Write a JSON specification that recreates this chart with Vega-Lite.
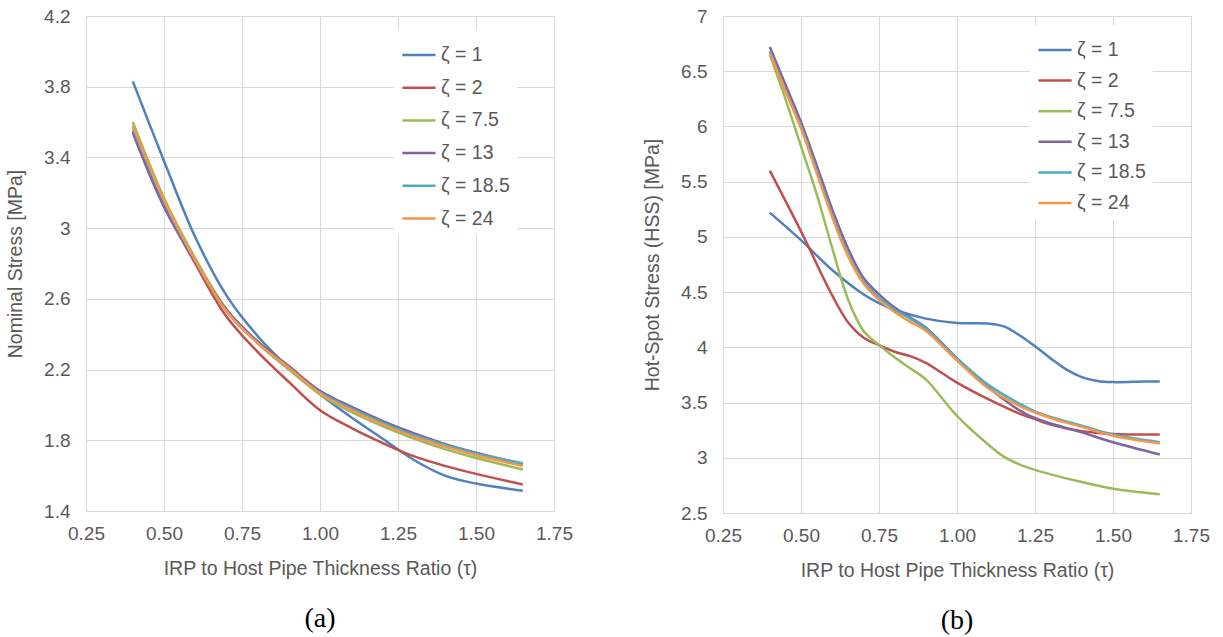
{
  "$schema": "https://vega.github.io/schema/vega-lite/v6.json",
  "background": "white",
  "padding": {"left": 5, "top": 6, "right": 5, "bottom": 5},
  "config": {
    "font": "Liberation Sans",
    "view": {"stroke": "#d9d9d9", "strokeWidth": 1},
    "axis": {
      "labelFont": "Liberation Sans", "labelFontSize": 19, "labelColor": "#595959",
      "titleFont": "Liberation Sans", "titleFontSize": 19.5, "titleFontWeight": "normal", "titleColor": "#595959",
      "gridColor": "#d9d9d9", "domainColor": "#d9d9d9", "ticks": false, "tickSize": 0,
      "labelOverlap": false, "labelFlush": false
    },
    "legend": {
      "symbolType": "stroke", "symbolSize": 1100, "symbolStrokeWidth": 2.5,
      "labelFont": "Liberation Sans", "labelFontSize": 19.5, "labelColor": "#595959",
      "fillColor": "white", "padding": 7, "labelOffset": 4
    },
    "concat": {"spacing": 69}
  },
  "datasets": {
    "nominal": [
      {"series": "ζ = 1", "tau": 0.4, "value": 3.83}, {"series": "ζ = 1", "tau": 0.5, "value": 3.38}, {"series": "ζ = 1", "tau": 0.6, "value": 2.95}, {"series": "ζ = 1", "tau": 0.7, "value": 2.62}, {"series": "ζ = 1", "tau": 0.8, "value": 2.39}, {"series": "ζ = 1", "tau": 0.9, "value": 2.21}, {"series": "ζ = 1", "tau": 1.0, "value": 2.06}, {"series": "ζ = 1", "tau": 1.1, "value": 1.93}, {"series": "ζ = 1", "tau": 1.2, "value": 1.81}, {"series": "ζ = 1", "tau": 1.3, "value": 1.69}, {"series": "ζ = 1", "tau": 1.4, "value": 1.6}, {"series": "ζ = 1", "tau": 1.5, "value": 1.555}, {"series": "ζ = 1", "tau": 1.65, "value": 1.515},
      {"series": "ζ = 2", "tau": 0.4, "value": 3.55}, {"series": "ζ = 2", "tau": 0.5, "value": 3.13}, {"series": "ζ = 2", "tau": 0.6, "value": 2.8}, {"series": "ζ = 2", "tau": 0.7, "value": 2.5}, {"series": "ζ = 2", "tau": 0.8, "value": 2.3}, {"series": "ζ = 2", "tau": 0.9, "value": 2.13}, {"series": "ζ = 2", "tau": 1.0, "value": 1.97}, {"series": "ζ = 2", "tau": 1.1, "value": 1.87}, {"series": "ζ = 2", "tau": 1.2, "value": 1.785}, {"series": "ζ = 2", "tau": 1.3, "value": 1.71}, {"series": "ζ = 2", "tau": 1.4, "value": 1.655}, {"series": "ζ = 2", "tau": 1.5, "value": 1.61}, {"series": "ζ = 2", "tau": 1.65, "value": 1.55},
      {"series": "ζ = 7.5", "tau": 0.4, "value": 3.6}, {"series": "ζ = 7.5", "tau": 0.5, "value": 3.17}, {"series": "ζ = 7.5", "tau": 0.6, "value": 2.83}, {"series": "ζ = 7.5", "tau": 0.7, "value": 2.54}, {"series": "ζ = 7.5", "tau": 0.8, "value": 2.35}, {"series": "ζ = 7.5", "tau": 0.9, "value": 2.2}, {"series": "ζ = 7.5", "tau": 1.0, "value": 2.06}, {"series": "ζ = 7.5", "tau": 1.1, "value": 1.96}, {"series": "ζ = 7.5", "tau": 1.2, "value": 1.88}, {"series": "ζ = 7.5", "tau": 1.3, "value": 1.81}, {"series": "ζ = 7.5", "tau": 1.4, "value": 1.75}, {"series": "ζ = 7.5", "tau": 1.5, "value": 1.7}, {"series": "ζ = 7.5", "tau": 1.65, "value": 1.635},
      {"series": "ζ = 13", "tau": 0.4, "value": 3.54}, {"series": "ζ = 13", "tau": 0.5, "value": 3.12}, {"series": "ζ = 13", "tau": 0.6, "value": 2.81}, {"series": "ζ = 13", "tau": 0.7, "value": 2.54}, {"series": "ζ = 13", "tau": 0.8, "value": 2.36}, {"series": "ζ = 13", "tau": 0.9, "value": 2.22}, {"series": "ζ = 13", "tau": 1.0, "value": 2.08}, {"series": "ζ = 13", "tau": 1.1, "value": 1.99}, {"series": "ζ = 13", "tau": 1.2, "value": 1.91}, {"series": "ζ = 13", "tau": 1.3, "value": 1.84}, {"series": "ζ = 13", "tau": 1.4, "value": 1.78}, {"series": "ζ = 13", "tau": 1.5, "value": 1.73}, {"series": "ζ = 13", "tau": 1.65, "value": 1.665},
      {"series": "ζ = 18.5", "tau": 0.4, "value": 3.57}, {"series": "ζ = 18.5", "tau": 0.5, "value": 3.15}, {"series": "ζ = 18.5", "tau": 0.6, "value": 2.82}, {"series": "ζ = 18.5", "tau": 0.7, "value": 2.53}, {"series": "ζ = 18.5", "tau": 0.8, "value": 2.35}, {"series": "ζ = 18.5", "tau": 0.9, "value": 2.21}, {"series": "ζ = 18.5", "tau": 1.0, "value": 2.07}, {"series": "ζ = 18.5", "tau": 1.1, "value": 1.98}, {"series": "ζ = 18.5", "tau": 1.2, "value": 1.9}, {"series": "ζ = 18.5", "tau": 1.3, "value": 1.83}, {"series": "ζ = 18.5", "tau": 1.4, "value": 1.775}, {"series": "ζ = 18.5", "tau": 1.5, "value": 1.725}, {"series": "ζ = 18.5", "tau": 1.65, "value": 1.67},
      {"series": "ζ = 24", "tau": 0.4, "value": 3.58}, {"series": "ζ = 24", "tau": 0.5, "value": 3.16}, {"series": "ζ = 24", "tau": 0.6, "value": 2.82}, {"series": "ζ = 24", "tau": 0.7, "value": 2.53}, {"series": "ζ = 24", "tau": 0.8, "value": 2.35}, {"series": "ζ = 24", "tau": 0.9, "value": 2.21}, {"series": "ζ = 24", "tau": 1.0, "value": 2.065}, {"series": "ζ = 24", "tau": 1.1, "value": 1.97}, {"series": "ζ = 24", "tau": 1.2, "value": 1.89}, {"series": "ζ = 24", "tau": 1.3, "value": 1.82}, {"series": "ζ = 24", "tau": 1.4, "value": 1.765}, {"series": "ζ = 24", "tau": 1.5, "value": 1.715}, {"series": "ζ = 24", "tau": 1.65, "value": 1.655}
    ],
    "hss": [
      {"series": "ζ = 1", "tau": 0.4, "value": 5.22}, {"series": "ζ = 1", "tau": 0.5, "value": 4.97}, {"series": "ζ = 1", "tau": 0.6, "value": 4.7}, {"series": "ζ = 1", "tau": 0.7, "value": 4.48}, {"series": "ζ = 1", "tau": 0.75, "value": 4.4}, {"series": "ζ = 1", "tau": 0.8, "value": 4.34}, {"series": "ζ = 1", "tau": 0.9, "value": 4.26}, {"series": "ζ = 1", "tau": 1.0, "value": 4.22}, {"series": "ζ = 1", "tau": 1.1, "value": 4.215}, {"series": "ζ = 1", "tau": 1.15, "value": 4.19}, {"series": "ζ = 1", "tau": 1.2, "value": 4.11}, {"series": "ζ = 1", "tau": 1.25, "value": 4.01}, {"series": "ζ = 1", "tau": 1.3, "value": 3.9}, {"series": "ζ = 1", "tau": 1.35, "value": 3.8}, {"series": "ζ = 1", "tau": 1.4, "value": 3.73}, {"series": "ζ = 1", "tau": 1.45, "value": 3.695}, {"series": "ζ = 1", "tau": 1.5, "value": 3.685}, {"series": "ζ = 1", "tau": 1.6, "value": 3.69}, {"series": "ζ = 1", "tau": 1.65, "value": 3.69},
      {"series": "ζ = 2", "tau": 0.4, "value": 5.6}, {"series": "ζ = 2", "tau": 0.5, "value": 5.05}, {"series": "ζ = 2", "tau": 0.6, "value": 4.47}, {"series": "ζ = 2", "tau": 0.65, "value": 4.23}, {"series": "ζ = 2", "tau": 0.7, "value": 4.09}, {"series": "ζ = 2", "tau": 0.75, "value": 4.02}, {"series": "ζ = 2", "tau": 0.8, "value": 3.96}, {"series": "ζ = 2", "tau": 0.85, "value": 3.92}, {"series": "ζ = 2", "tau": 0.9, "value": 3.86}, {"series": "ζ = 2", "tau": 1.0, "value": 3.68}, {"series": "ζ = 2", "tau": 1.1, "value": 3.53}, {"series": "ζ = 2", "tau": 1.2, "value": 3.4}, {"series": "ζ = 2", "tau": 1.25, "value": 3.35}, {"series": "ζ = 2", "tau": 1.3, "value": 3.3}, {"series": "ζ = 2", "tau": 1.4, "value": 3.24}, {"series": "ζ = 2", "tau": 1.5, "value": 3.215}, {"series": "ζ = 2", "tau": 1.65, "value": 3.21},
      {"series": "ζ = 7.5", "tau": 0.4, "value": 6.65}, {"series": "ζ = 7.5", "tau": 0.45, "value": 6.25}, {"series": "ζ = 7.5", "tau": 0.5, "value": 5.82}, {"series": "ζ = 7.5", "tau": 0.55, "value": 5.39}, {"series": "ζ = 7.5", "tau": 0.6, "value": 4.9}, {"series": "ζ = 7.5", "tau": 0.65, "value": 4.44}, {"series": "ζ = 7.5", "tau": 0.7, "value": 4.15}, {"series": "ζ = 7.5", "tau": 0.75, "value": 4.02}, {"series": "ζ = 7.5", "tau": 0.8, "value": 3.91}, {"series": "ζ = 7.5", "tau": 0.85, "value": 3.81}, {"series": "ζ = 7.5", "tau": 0.9, "value": 3.71}, {"series": "ζ = 7.5", "tau": 1.0, "value": 3.38}, {"series": "ζ = 7.5", "tau": 1.1, "value": 3.12}, {"series": "ζ = 7.5", "tau": 1.15, "value": 3.01}, {"series": "ζ = 7.5", "tau": 1.2, "value": 2.94}, {"series": "ζ = 7.5", "tau": 1.25, "value": 2.89}, {"series": "ζ = 7.5", "tau": 1.3, "value": 2.85}, {"series": "ζ = 7.5", "tau": 1.4, "value": 2.78}, {"series": "ζ = 7.5", "tau": 1.5, "value": 2.72}, {"series": "ζ = 7.5", "tau": 1.65, "value": 2.67},
      {"series": "ζ = 13", "tau": 0.4, "value": 6.72}, {"series": "ζ = 13", "tau": 0.45, "value": 6.38}, {"series": "ζ = 13", "tau": 0.5, "value": 6.04}, {"series": "ζ = 13", "tau": 0.55, "value": 5.65}, {"series": "ζ = 13", "tau": 0.6, "value": 5.25}, {"series": "ζ = 13", "tau": 0.65, "value": 4.9}, {"series": "ζ = 13", "tau": 0.7, "value": 4.63}, {"series": "ζ = 13", "tau": 0.75, "value": 4.48}, {"series": "ζ = 13", "tau": 0.8, "value": 4.36}, {"series": "ζ = 13", "tau": 0.85, "value": 4.27}, {"series": "ζ = 13", "tau": 0.9, "value": 4.18}, {"series": "ζ = 13", "tau": 1.0, "value": 3.9}, {"series": "ζ = 13", "tau": 1.1, "value": 3.64}, {"series": "ζ = 13", "tau": 1.2, "value": 3.43}, {"series": "ζ = 13", "tau": 1.25, "value": 3.36}, {"series": "ζ = 13", "tau": 1.3, "value": 3.31}, {"series": "ζ = 13", "tau": 1.4, "value": 3.23}, {"series": "ζ = 13", "tau": 1.5, "value": 3.14}, {"series": "ζ = 13", "tau": 1.65, "value": 3.03},
      {"series": "ζ = 18.5", "tau": 0.4, "value": 6.68}, {"series": "ζ = 18.5", "tau": 0.45, "value": 6.33}, {"series": "ζ = 18.5", "tau": 0.5, "value": 6.0}, {"series": "ζ = 18.5", "tau": 0.55, "value": 5.6}, {"series": "ζ = 18.5", "tau": 0.6, "value": 5.2}, {"series": "ζ = 18.5", "tau": 0.65, "value": 4.85}, {"series": "ζ = 18.5", "tau": 0.7, "value": 4.6}, {"series": "ζ = 18.5", "tau": 0.75, "value": 4.45}, {"series": "ζ = 18.5", "tau": 0.8, "value": 4.34}, {"series": "ζ = 18.5", "tau": 0.85, "value": 4.26}, {"series": "ζ = 18.5", "tau": 0.9, "value": 4.17}, {"series": "ζ = 18.5", "tau": 1.0, "value": 3.9}, {"series": "ζ = 18.5", "tau": 1.1, "value": 3.66}, {"series": "ζ = 18.5", "tau": 1.2, "value": 3.49}, {"series": "ζ = 18.5", "tau": 1.25, "value": 3.42}, {"series": "ζ = 18.5", "tau": 1.3, "value": 3.37}, {"series": "ζ = 18.5", "tau": 1.4, "value": 3.29}, {"series": "ζ = 18.5", "tau": 1.5, "value": 3.21}, {"series": "ζ = 18.5", "tau": 1.65, "value": 3.14},
      {"series": "ζ = 24", "tau": 0.4, "value": 6.66}, {"series": "ζ = 24", "tau": 0.45, "value": 6.32}, {"series": "ζ = 24", "tau": 0.5, "value": 5.98}, {"series": "ζ = 24", "tau": 0.55, "value": 5.58}, {"series": "ζ = 24", "tau": 0.6, "value": 5.18}, {"series": "ζ = 24", "tau": 0.65, "value": 4.83}, {"series": "ζ = 24", "tau": 0.7, "value": 4.58}, {"series": "ζ = 24", "tau": 0.75, "value": 4.43}, {"series": "ζ = 24", "tau": 0.8, "value": 4.32}, {"series": "ζ = 24", "tau": 0.85, "value": 4.23}, {"series": "ζ = 24", "tau": 0.9, "value": 4.15}, {"series": "ζ = 24", "tau": 1.0, "value": 3.88}, {"series": "ζ = 24", "tau": 1.1, "value": 3.63}, {"series": "ζ = 24", "tau": 1.2, "value": 3.47}, {"series": "ζ = 24", "tau": 1.25, "value": 3.41}, {"series": "ζ = 24", "tau": 1.3, "value": 3.36}, {"series": "ζ = 24", "tau": 1.4, "value": 3.28}, {"series": "ζ = 24", "tau": 1.5, "value": 3.2}, {"series": "ζ = 24", "tau": 1.65, "value": 3.13}
    ]
  },
  "hconcat": [
    {
      "width": 468, "height": 495,
      "title": {"text": "(a)", "orient": "bottom", "frame": "group", "anchor": "middle", "font": "Liberation Serif", "fontSize": 28, "fontWeight": "normal", "color": "black", "offset": 27},
      "data": {"name": "nominal"},
      "mark": {"type": "line", "interpolate": "catmull-rom", "strokeWidth": 2.5},
      "encoding": {
        "x": {"field": "tau", "type": "quantitative", "scale": {"domain": [0.25, 1.75], "nice": false, "zero": false},
              "axis": {"values": [0.25, 0.5, 0.75, 1.0, 1.25, 1.5, 1.75], "format": ".2f", "title": "IRP to Host Pipe Thickness Ratio (τ)", "labelPadding": 13, "titlePadding": 16}},
        "y": {"field": "value", "type": "quantitative", "scale": {"domain": [1.4, 4.2], "nice": false, "zero": false},
              "axis": {"values": [1.4, 1.8, 2.2, 2.6, 3.0, 3.4, 3.8, 4.2], "format": "~g", "title": "Nominal Stress [MPa]", "labelPadding": 16, "titlePadding": 18}},
        "color": {"field": "series", "type": "nominal",
                  "scale": {"domain": ["ζ = 1", "ζ = 2", "ζ = 7.5", "ζ = 13", "ζ = 18.5", "ζ = 24"], "range": ["#4F81BD", "#C0504D", "#9BBB59", "#8064A2", "#4BACC6", "#F79646"]},
                  "legend": {"orient": "none", "legendX": 308, "legendY": 14, "title": null, "rowPadding": 4.7}}
      }
    },
    {
      "width": 468, "height": 497,
      "title": {"text": "(b)", "orient": "bottom", "frame": "group", "anchor": "middle", "font": "Liberation Serif", "fontSize": 28, "fontWeight": "normal", "color": "black", "offset": 27},
      "data": {"name": "hss"},
      "mark": {"type": "line", "interpolate": "catmull-rom", "strokeWidth": 2.5},
      "encoding": {
        "x": {"field": "tau", "type": "quantitative", "scale": {"domain": [0.25, 1.75], "nice": false, "zero": false},
              "axis": {"values": [0.25, 0.5, 0.75, 1.0, 1.25, 1.5, 1.75], "format": ".2f", "title": "IRP to Host Pipe Thickness Ratio (τ)", "labelPadding": 13, "titlePadding": 16}},
        "y": {"field": "value", "type": "quantitative", "scale": {"domain": [2.5, 7], "nice": false, "zero": false},
              "axis": {"values": [2.5, 3, 3.5, 4, 4.5, 5, 5.5, 6, 6.5, 7], "format": "~g", "title": "Hot-Spot Stress (HSS) [MPa]", "labelPadding": 16, "titlePadding": 18}},
        "color": {"field": "series", "type": "nominal",
                  "scale": {"domain": ["ζ = 1", "ζ = 2", "ζ = 7.5", "ζ = 13", "ζ = 18.5", "ζ = 24"], "range": ["#4F81BD", "#C0504D", "#9BBB59", "#8064A2", "#4BACC6", "#F79646"]},
                  "legend": {"orient": "none", "legendX": 307, "legendY": 9, "title": null, "rowPadding": 2.6}}
      }
    }
  ],
  "resolve": {"scale": {"x": "independent", "y": "independent", "color": "independent"}, "legend": {"color": "independent"}}
}
